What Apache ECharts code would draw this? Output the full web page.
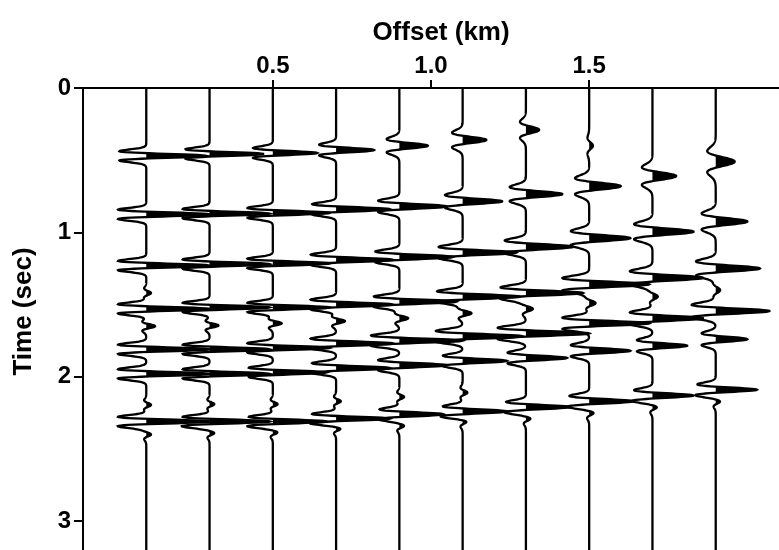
<!DOCTYPE html>
<html>
<head>
<meta charset="utf-8">
<script src="https://cdn.jsdelivr.net/npm/echarts@6.0.0/dist/echarts.min.js"></script>
<style>
  html, body { margin: 0; padding: 0; background: #fff; }
  #chart { width: 779px; height: 550px; }
</style>
</head>
<body>
<div id="chart"></div>
<script>
// trace offsets (km)
const offsets = [0.1, 0.3, 0.5, 0.7, 0.9, 1.1, 1.3, 1.5, 1.7, 1.9]
const offsetTicks = [0.5, 1.0, 1.5]
const timeTicks = [0, 1, 2, 3]

// events on each trace: [time s, peak amplitude km, wavelet frequency Hz]
const trace1 = [[0.47, 0.19, 12], [0.875, 0.2, 12], [1.23, 0.2, 12], [1.42, 0.015, 12], [1.53, 0.2, 12], [1.65, 0.028, 12], [1.81, 0.2, 12], [1.98, 0.2, 12], [2.195, 0.015, 12], [2.31, 0.2, 12], [2.4, 0.015, 12]]
const trace2 = [[0.457, 0.17, 12], [0.87, 0.19, 12], [1.22, 0.19, 12], [1.52, 0.19, 12], [1.645, 0.028, 12], [1.81, 0.19, 12], [1.98, 0.19, 12], [2.19, 0.015, 12], [2.31, 0.19, 12], [2.39, 0.015, 12]]
const trace3 = [[0.45, 0.14, 11.5], [0.865, 0.18, 11.5], [1.215, 0.18, 12], [1.52, 0.18, 12], [1.63, 0.028, 12], [1.8, 0.18, 12], [1.97, 0.17, 12], [2.19, 0.015, 12], [2.31, 0.17, 12], [2.385, 0.015, 12]]
const trace4 = [[0.43, 0.12, 10.5], [0.84, 0.17, 11], [1.19, 0.18, 11], [1.5, 0.18, 11.5], [1.615, 0.028, 11.5], [1.77, 0.18, 11.5], [1.94, 0.17, 11.5], [2.17, 0.015, 12], [2.29, 0.17, 12], [2.36, 0.015, 12]]
const trace5 = [[0.4, 0.09, 8.5], [0.82, 0.15, 10], [1.17, 0.17, 10.5], [1.48, 0.18, 11], [1.595, 0.028, 11], [1.75, 0.2, 11], [1.92, 0.15, 11], [2.14, 0.015, 11.5], [2.26, 0.14, 11.5], [2.34, 0.015, 11.5]]
const trace6 = [[0.36, 0.075, 7.7], [0.785, 0.125, 9], [1.14, 0.17, 10], [1.445, 0.18, 10.5], [1.56, 0.028, 10.5], [1.72, 0.19, 10.5], [1.89, 0.14, 11], [2.11, 0.015, 11], [2.24, 0.14, 11], [2.31, 0.015, 11]]
const trace7 = [[0.29, 0.042, 7], [0.735, 0.115, 8], [1.1, 0.15, 9], [1.42, 0.18, 10], [1.53, 0.022, 10], [1.7, 0.2, 10], [1.87, 0.13, 10.5], [2.21, 0.14, 11], [2.29, 0.015, 11]]
const trace8 = [[0.4, 0.012, 7], [0.68, 0.1, 7], [1.04, 0.13, 8], [1.36, 0.19, 9], [1.49, 0.02, 9.5], [1.63, 0.19, 10], [1.82, 0.13, 10], [2.17, 0.14, 10.5], [2.25, 0.015, 10.5]]
const trace9 = [[0.61, 0.075, 6.4], [0.995, 0.13, 7.5], [1.315, 0.16, 8.5], [1.445, 0.017, 9], [1.595, 0.16, 9.5], [1.785, 0.11, 10], [2.13, 0.13, 10.5], [2.21, 0.015, 10.5]]
const trace10 = [[0.51, 0.06, 5.3], [0.925, 0.1, 7], [1.25, 0.14, 8], [1.4, 0.014, 8.5], [1.545, 0.17, 9], [1.74, 0.1, 9.5], [2.09, 0.13, 10.5], [2.17, 0.015, 10.5]]

const traces = [trace1, trace2, trace3, trace4, trace5, trace6, trace7, trace8, trace9, trace10]

const T_END = 3.2
const STEPS = 1600
const font = "'Liberation Sans', Arial, Helvetica, sans-serif"

// ricker wavelet sum along one trace, positive lobes filled
function renderTrace(params, api) {
  const x0 = api.value(0)
  const events = traces[api.value(1)]
  const line = []
  const fill = []
  for (let k = 0; k <= STEPS; k++) {
    const t = (k / STEPS) * T_END
    let a = 0
    for (const [t0, amp, f] of events) {
      const u = Math.pow(Math.PI * f * (t - t0), 2)
      if (u < 40) a += amp * (1 - 2 * u) * Math.exp(-u)
    }
    line.push(api.coord([x0 + a, t]))
    fill.push(api.coord([x0 + Math.max(a, 0), t]))
  }
  fill.push(api.coord([x0, T_END]), api.coord([x0, 0]))
  return {
    type: "group",
    children: [
      { type: "polygon", shape: { points: fill }, style: { fill: "#000" } },
      {
        type: "polyline",
        shape: { points: line },
        style: { stroke: "#000", lineWidth: 2.3, fill: null },
      },
    ],
  }
}

const chart = echarts.init(document.getElementById("chart"), null, {
  renderer: "canvas",
})

const labelStyle = {
  fontSize: 24,
  fontWeight: "bold",
  color: "#000",
  fontFamily: font,
}
const nameStyle = {
  fontSize: 26,
  fontWeight: "bold",
  color: "#000",
  fontFamily: font,
}

chart.setOption({
  animation: false,
  backgroundColor: "#fff",
  textStyle: { fontFamily: font, color: "#000" },
  grid: { left: 83, top: 88, width: 705, height: 469 },
  xAxis: {
    type: "value",
    position: "top",
    min: -0.1,
    max: 2.1,
    name: "Offset (km)",
    nameLocation: "middle",
    nameGap: 42,
    nameTextStyle: { ...nameStyle, padding: [0, 0, 0, 20] },
    axisLine: { onZero: false, lineStyle: { color: "#000", width: 2 } },
    axisTick: {
      customValues: offsetTicks,
      length: 8,
      lineStyle: { color: "#000", width: 2 },
    },
    axisLabel: {
      ...labelStyle,
      customValues: offsetTicks,
      formatter: (v) => v.toFixed(1),
      margin: 10,
    },
    splitLine: { show: false },
  },
  yAxis: {
    type: "value",
    inverse: true,
    min: 0,
    max: T_END,
    name: "Time (sec)",
    nameLocation: "middle",
    nameRotate: 90,
    nameGap: 46,
    nameTextStyle: { ...nameStyle, padding: [0, 0, 0, 15] },
    axisLine: { onZero: false, lineStyle: { color: "#000", width: 2 } },
    axisTick: {
      customValues: timeTicks,
      length: 9,
      lineStyle: { color: "#000", width: 2 },
    },
    axisLabel: {
      ...labelStyle,
      customValues: timeTicks,
      margin: 12,
    },
    splitLine: { show: false },
  },
  series: [
    {
      type: "custom",
      silent: true,
      clip: false,
      renderItem: renderTrace,
      encode: { x: 0, y: 1 },
      data: offsets.map((x, i) => [x, i]),
    },
  ],
})
</script>
</body>
</html>
